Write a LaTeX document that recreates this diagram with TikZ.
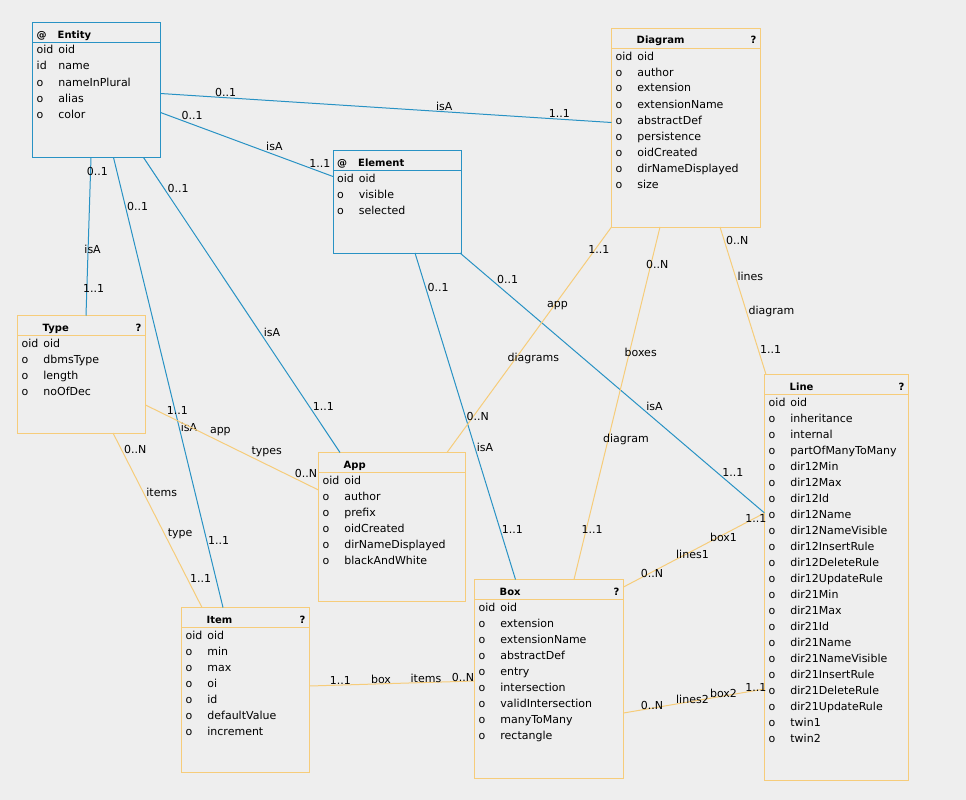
\documentclass[tikz,border=0pt]{standalone}
\usepackage{fontspec}
\setmainfont{DejaVu Sans}
\usetikzlibrary{calc}

\definecolor{isablue}{RGB}{40,146,196}
\definecolor{reforange}{RGB}{246,204,122}
\definecolor{canvasgray}{RGB}{238,238,238}

\tikzset{
  every node/.style={font=\fontsize{11}{13}\selectfont},
  abox/.style={draw=isablue, line width=1pt, anchor=north west, inner sep=0, outer sep=0},
  tbox/.style={draw=reforange, line width=1pt, anchor=north west, inner sep=0, outer sep=0},
  isaline/.style={draw=isablue, line width=1pt},
  relline/.style={draw=reforange, line width=1pt},
  ttl/.style={anchor=base west, inner sep=0, font=\fontsize{10}{12}\selectfont\bfseries},
  qmark/.style={anchor=base east, inner sep=0, font=\fontsize{10}{12}\selectfont\bfseries},
  attr/.style={anchor=base west, inner sep=0},
  card/.style={anchor=south west, inner sep=0},
  cardw/.style={card, xshift=-4pt},
}

\begin{document}
\begin{tikzpicture}[x=1pt, y=-1pt]
  \useasboundingbox (0,0) rectangle (966,800);
  \fill[canvasgray] (0,0) rectangle (966,800);

  % abstract boxes
  \node[abox, minimum width=128, minimum height=135] (entity) at (32.5,22.5) {};
  \draw[isaline] ([yshift=-20]entity.north west) -- ([yshift=-20]entity.north east);
  \node[ttl] (entity-at) at ([xshift=4,yshift=-15.5]entity.north west) {@};
  \node[ttl] (entity-t) at ([xshift=25,yshift=-15.5]entity.north west) {Entity};
  \foreach \p/\n [count=\i] in {oid/oid, id/name, o/nameInPlural, o/alias, o/color} {
    \node[attr] (entity-p\i) at ([xshift=4,yshift=-15.5-16*\i]entity.north west) {\p};
    \node[attr] (entity-n\i) at ([xshift=25.7,yshift=-15.5-16*\i]entity.north west) {\n};
  }

  \node[abox, minimum width=128.5, minimum height=102.5] (element) at (333,150.5) {};
  \draw[isaline] ([yshift=-20]element.north west) -- ([yshift=-20]element.north east);
  \node[ttl] (element-at) at ([xshift=4,yshift=-15.5]element.north west) {@};
  \node[ttl] (element-t) at ([xshift=25,yshift=-15.5]element.north west) {Element};
  \foreach \p/\n [count=\i] in {oid/oid, o/visible, o/selected} {
    \node[attr] (element-p\i) at ([xshift=4,yshift=-15.5-16*\i]element.north west) {\p};
    \node[attr] (element-n\i) at ([xshift=25.7,yshift=-15.5-16*\i]element.north west) {\n};
  }

  % tables
  \node[tbox, minimum width=149, minimum height=198.5] (diagram) at (611.5,28.5) {};
  \draw[relline] ([yshift=-20]diagram.north west) -- ([yshift=-20]diagram.north east);
  \node[ttl] (diagram-t) at ([xshift=25,yshift=-15.5]diagram.north west) {Diagram};
  \node[qmark] (diagram-q) at ([xshift=-4,yshift=-15.5]diagram.north east) {?};
  \foreach \p/\n [count=\i] in {oid/oid, o/author, o/extension, o/extensionName, o/abstractDef,
      o/persistence, o/oidCreated, o/dirNameDisplayed, o/size} {
    \node[attr] (diagram-p\i) at ([xshift=4,yshift=-15.5-16*\i]diagram.north west) {\p};
    \node[attr] (diagram-n\i) at ([xshift=25.7,yshift=-15.5-16*\i]diagram.north west) {\n};
  }

  \node[tbox, minimum width=128, minimum height=117.5] (type) at (17.5,315.5) {};
  \draw[relline] ([yshift=-20]type.north west) -- ([yshift=-20]type.north east);
  \node[ttl] (type-t) at ([xshift=25,yshift=-15.5]type.north west) {Type};
  \node[qmark] (type-q) at ([xshift=-4,yshift=-15.5]type.north east) {?};
  \foreach \p/\n [count=\i] in {oid/oid, o/dbmsType, o/length, o/noOfDec} {
    \node[attr] (type-p\i) at ([xshift=4,yshift=-15.5-16*\i]type.north west) {\p};
    \node[attr] (type-n\i) at ([xshift=25.7,yshift=-15.5-16*\i]type.north west) {\n};
  }

  \node[tbox, minimum width=146.5, minimum height=148.5] (app) at (318.5,452.5) {};
  \draw[relline] ([yshift=-20]app.north west) -- ([yshift=-20]app.north east);
  \node[ttl] (app-t) at ([xshift=25,yshift=-15.5]app.north west) {App};
  \foreach \p/\n [count=\i] in {oid/oid, o/author, o/prefix, o/oidCreated, o/dirNameDisplayed,
      o/blackAndWhite} {
    \node[attr] (app-p\i) at ([xshift=4,yshift=-15.5-16*\i]app.north west) {\p};
    \node[attr] (app-n\i) at ([xshift=25.7,yshift=-15.5-16*\i]app.north west) {\n};
  }

  \node[tbox, minimum width=128, minimum height=165] (item) at (181.5,607.5) {};
  \draw[relline] ([yshift=-20]item.north west) -- ([yshift=-20]item.north east);
  \node[ttl] (item-t) at ([xshift=25,yshift=-15.5]item.north west) {Item};
  \node[qmark] (item-q) at ([xshift=-4,yshift=-15.5]item.north east) {?};
  \foreach \p/\n [count=\i] in {oid/oid, o/min, o/max, o/oi, o/id, o/defaultValue, o/increment} {
    \node[attr] (item-p\i) at ([xshift=4,yshift=-15.5-16*\i]item.north west) {\p};
    \node[attr] (item-n\i) at ([xshift=25.7,yshift=-15.5-16*\i]item.north west) {\n};
  }

  \node[tbox, minimum width=149, minimum height=199] (box) at (474.5,579.5) {};
  \draw[relline] ([yshift=-20]box.north west) -- ([yshift=-20]box.north east);
  \node[ttl] (box-t) at ([xshift=25,yshift=-15.5]box.north west) {Box};
  \node[qmark] (box-q) at ([xshift=-4,yshift=-15.5]box.north east) {?};
  \foreach \p/\n [count=\i] in {oid/oid, o/extension, o/extensionName, o/abstractDef, o/entry,
      o/intersection, o/validIntersection, o/manyToMany, o/rectangle} {
    \node[attr] (box-p\i) at ([xshift=4,yshift=-15.5-16*\i]box.north west) {\p};
    \node[attr] (box-n\i) at ([xshift=25.7,yshift=-15.5-16*\i]box.north west) {\n};
  }

  \node[tbox, minimum width=144, minimum height=405.5] (line) at (764.5,374.5) {};
  \draw[relline] ([yshift=-20]line.north west) -- ([yshift=-20]line.north east);
  \node[ttl] (line-t) at ([xshift=25,yshift=-15.5]line.north west) {Line};
  \node[qmark] (line-q) at ([xshift=-4,yshift=-15.5]line.north east) {?};
  \foreach \p/\n [count=\i] in {oid/oid, o/inheritance, o/internal, o/partOfManyToMany,
      o/dir12Min, o/dir12Max, o/dir12Id, o/dir12Name, o/dir12NameVisible, o/dir12InsertRule,
      o/dir12DeleteRule, o/dir12UpdateRule, o/dir21Min, o/dir21Max, o/dir21Id, o/dir21Name,
      o/dir21NameVisible, o/dir21InsertRule, o/dir21DeleteRule, o/dir21UpdateRule,
      o/twin1, o/twin2} {
    \node[attr] (line-p\i) at ([xshift=4,yshift=-15.5-16*\i]line.north west) {\p};
    \node[attr] (line-n\i) at ([xshift=25.7,yshift=-15.5-16*\i]line.north west) {\n};
  }

  % isA links
  \draw[isaline] ([yshift=-71]entity.north east) -- ([yshift=-94]diagram.north west)
    node[card, pos=.12] (i1a) {0..1} node[card, pos=.61] (i1b) {isA} node[card, pos=.86] (i1c) {1..1};
  \draw[isaline] ([yshift=-90]entity.north east) -- ([yshift=-26]element.north west)
    node[card, pos=.12] (i2a) {0..1} node[card, pos=.61] (i2b) {isA} node[card, pos=.86] (i2c) {1..1};
  \draw[isaline] ([xshift=58.5]entity.south west) -- ([xshift=68.5]type.north west)
    node[cardw, pos=.12] (i3a) {0..1} node[cardw, pos=.61] (i3b) {isA} node[cardw, pos=.86] (i3c) {1..1};
  \draw[isaline] ([xshift=81]entity.south west) -- ([xshift=41.5]item.north west)
    node[card, pos=.12] (i4a) {0..1} node[card, pos=.61] (i4b) {isA} node[card, pos=.86] (i4c) {1..1};
  \draw[isaline] ([xshift=111]entity.south west) -- ([xshift=21.5]app.north west)
    node[card, pos=.12] (i5a) {0..1} node[card, pos=.61] (i5b) {isA} node[card, pos=.86] (i5c) {1..1};
  \draw[isaline] ([xshift=82]element.south west) -- ([xshift=41]box.north west)
    node[card, pos=.12] (i6a) {0..1} node[card, pos=.61] (i6b) {isA} node[card, pos=.86] (i6c) {1..1};
  \draw[isaline] ([xshift=-1.5]element.south east) -- ([yshift=-138.5]line.north west)
    node[card, pos=.12] (i7a) {0..1} node[card, pos=.61] (i7b) {isA} node[card, pos=.86] (i7c) {1..1};

  % references
  \draw[relline] (diagram.south west) -- ([xshift=128.5]app.north west)
    node[cardw, pos=.12] (r1a) {1..1} node[cardw, pos=.37] (r1b) {app}
    node[cardw, pos=.61] (r1c) {diagrams} node[cardw, pos=.86] (r1d) {0..N};
  \draw[relline] ([xshift=48.5]diagram.south west) -- ([xshift=99.5]box.north west)
    node[cardw, pos=.12] (r2a) {0..N} node[cardw, pos=.37] (r2b) {boxes}
    node[cardw, pos=.62] (r2c) {diagram} node[cardw, pos=.87] (r2d) {1..1};
  \draw[relline] ([xshift=108.5]diagram.south west) -- ([xshift=1.5]line.north west)
    node[card, pos=.12] (r3a) {0..N} node[card, pos=.37] (r3b) {lines}
    node[card, pos=.61] (r3c) {diagram} node[card, pos=.86] (r3d) {1..1};
  \draw[relline] ([yshift=-89.5]type.north east) -- ([yshift=-37.5]app.north west)
    node[card, pos=.12] (r4a) {1..1} node[card, pos=.37] (r4b) {app}
    node[card, pos=.61] (r4c) {types} node[card, pos=.86] (r4d) {0..N};
  \draw[relline] ([xshift=95.5]type.south west) -- ([xshift=20.5]item.north west)
    node[card, pos=.12] (r5a) {0..N} node[card, pos=.37] (r5b) {items}
    node[card, pos=.61] (r5c) {type} node[card, pos=.86] (r5d) {1..1};
  \draw[relline] ([yshift=-78.5]item.north east) -- ([yshift=-101.5]box.north west)
    node[card, pos=.12] (r6a) {1..1} node[card, pos=.37] (r6b) {box}
    node[card, pos=.61] (r6c) {items} node[card, pos=.86] (r6d) {0..N};
  \draw[relline] ([yshift=-7.5]box.north east) -- ([yshift=-138.5]line.north west)
    node[card, pos=.12] (r7a) {0..N} node[card, pos=.37] (r7b) {lines1}
    node[card, pos=.61] (r7c) {box1} node[card, pos=.86] (r7d) {1..1};
  \draw[relline] ([yshift=-133.5]box.north east) -- ([yshift=-314.5]line.north west)
    node[card, pos=.12] (r8a) {0..N} node[card, pos=.37] (r8b) {lines2}
    node[card, pos=.61] (r8c) {box2} node[card, pos=.86] (r8d) {1..1};
\end{tikzpicture}
\end{document}
